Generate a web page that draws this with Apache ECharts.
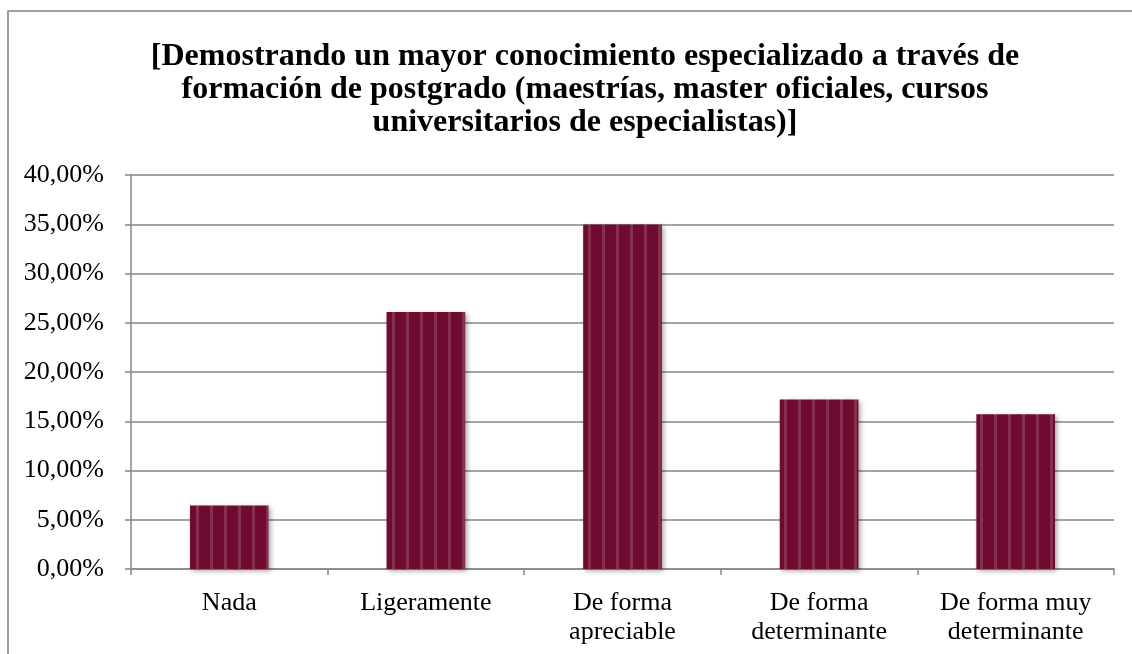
<!DOCTYPE html>
<html>
<head>
<meta charset="utf-8">
<script src="https://cdn.jsdelivr.net/npm/echarts@6/dist/echarts.min.js"></script>
<style>
    html, body { margin: 0; padding: 0; background: #fff; }
    #chart { width: 1132px; height: 654px; }
</style>
</head>
<body>
<div id="chart"></div>
<script>
    var titleText = '[Demostrando un mayor conocimiento especializado a través de\nformación de postgrado (maestrías, master oficiales, cursos\nuniversitarios de especialistas)]';
    var categories = ['Nada', 'Ligeramente', 'De forma\napreciable', 'De forma\ndeterminante', 'De forma muy\ndeterminante'];
    var values = [6.45, 26.08, 34.98, 17.22, 15.70];
    var yTicks = [0, 5, 10, 15, 20, 25, 30, 35, 40];

    // striped fill like the original bars
    function makeStripes() {
        var c = document.createElement('canvas');
        c.width = 14; c.height = 4;
        var ctx = c.getContext('2d');
        ctx.fillStyle = '#6f0a31';
        ctx.fillRect(0, 0, 14, 4);
        ctx.fillStyle = '#86304f';
        ctx.fillRect(0, 0, 3, 4);
        return c;
    }

    var chart = echarts.init(document.getElementById('chart'));
    chart.setOption({
        animation: false,
        textStyle: { fontFamily: 'Liberation Serif', color: '#000' },
        title: {
            text: titleText,
            left: 580,
            top: 35,
            textAlign: 'center',
            textStyle: {
                fontFamily: 'Liberation Serif',
                fontWeight: 'bold',
                fontSize: 32,
                lineHeight: 33,
                color: '#000'
            }
        },
        graphic: [{
            type: 'rect',
            shape: { x: 8, y: 11, width: 1200, height: 700 },
            style: { fill: 'none', stroke: '#7f7f7f', lineWidth: 1.5 },
            silent: true
        }],
        grid: { left: 131, right: 18, top: 175, bottom: 85 },
        xAxis: {
            type: 'category',
            data: categories,
            axisLine: { lineStyle: { color: '#868686', width: 1.5 } },
            axisTick: { show: true, length: 6, lineStyle: { color: '#868686', width: 1.5 } },
            axisLabel: {
                color: '#000',
                fontFamily: 'Liberation Serif',
                fontSize: 26,
                lineHeight: 29,
                margin: 20,
                interval: 0
            }
        },
        yAxis: {
            type: 'value',
            min: yTicks[0],
            max: yTicks[yTicks.length - 1],
            interval: 5,
            axisLine: { show: true, lineStyle: { color: '#868686', width: 1.5 } },
            axisTick: { show: true, length: 6, lineStyle: { color: '#868686', width: 1.5 } },
            splitLine: { show: true, lineStyle: { color: '#868686', width: 1.5 } },
            axisLabel: {
                color: '#000',
                fontFamily: 'Liberation Serif',
                fontSize: 26,
                margin: 27,
                formatter: function (v) { return v.toFixed(2).replace('.', ',') + '%'; }
            }
        },
        series: [{
            type: 'bar',
            data: values,
            barCategoryGap: '60%',
            itemStyle: {
                color: { image: makeStripes(), repeat: 'repeat' },
                shadowBlur: 5,
                shadowOffsetX: 2,
                shadowOffsetY: 2,
                shadowColor: 'rgba(0,0,0,0.35)'
            }
        }]
    });
</script>
</body>
</html>
